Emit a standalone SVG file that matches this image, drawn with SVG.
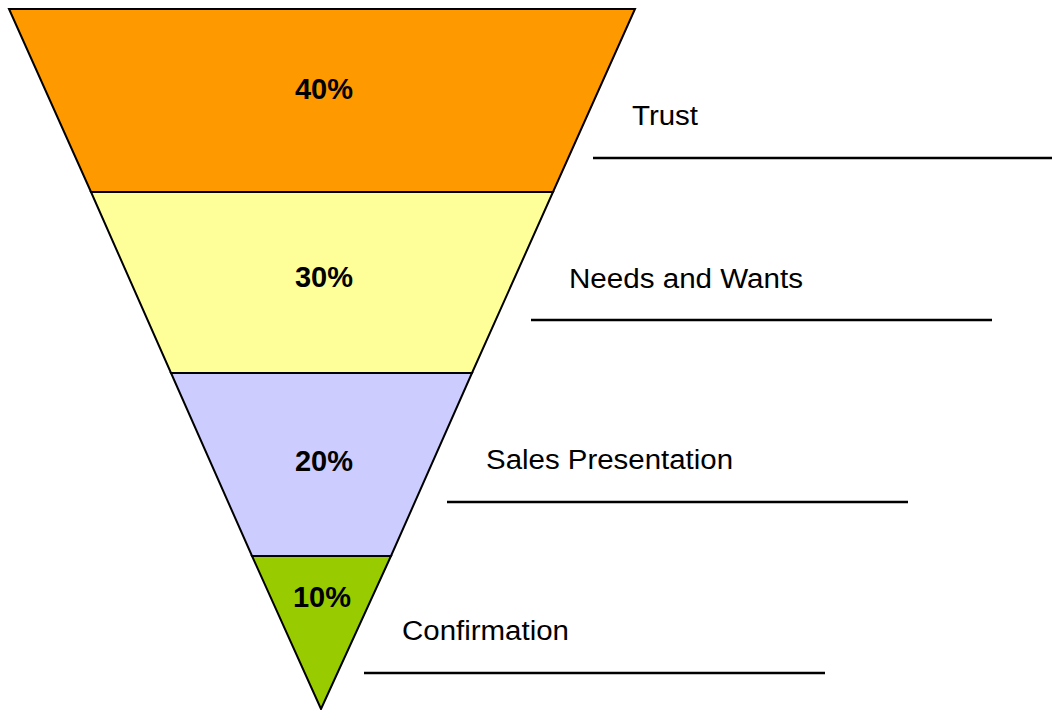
<svg xmlns="http://www.w3.org/2000/svg" width="1052" height="710" viewBox="0 0 1052 710">
  <style>
    .band { stroke: #000; stroke-width: 2; stroke-linejoin: miter; }
    .pct { font-family: "Liberation Sans", Arial, sans-serif; font-weight: bold; font-size: 29px; text-anchor: middle; fill: #000; }
    .label { font-family: "Liberation Sans", Arial, sans-serif; font-size: 27px; fill: #000; }
    .rule { stroke: #000; stroke-width: 2.5; }
  </style>
  <rect width="1052" height="710" fill="#fff"/>

  <!-- funnel bands, top to bottom -->
  <g id="band-trust">
    <polygon class="band" fill="#FF9900" points="9,9 635,9 553,192 91,192"/>
    <text class="pct" x="324" y="99">40%</text>
  </g>
  <g id="band-needs">
    <polygon class="band" fill="#FFFF99" points="91,192 553,192 472,373 171,373"/>
    <text class="pct" x="324" y="287">30%</text>
  </g>
  <g id="band-presentation">
    <polygon class="band" fill="#CCCCFF" points="171,373 472,373 391,556 252,556"/>
    <text class="pct" x="324" y="471">20%</text>
  </g>
  <g id="band-confirmation">
    <polygon class="band" fill="#99CC00" points="252,556 391,556 321,709"/>
    <text class="pct" x="322" y="607">10%</text>
  </g>

  <!-- stage labels with writing lines -->
  <g id="label-trust">
    <text class="label" x="632" y="125" textLength="66" lengthAdjust="spacingAndGlyphs">Trust</text>
    <line class="rule" x1="593" y1="158" x2="1052" y2="158"/>
  </g>
  <g id="label-needs">
    <text class="label" x="569" y="288" textLength="234" lengthAdjust="spacingAndGlyphs">Needs and Wants</text>
    <line class="rule" x1="531" y1="320" x2="992" y2="320"/>
  </g>
  <g id="label-presentation">
    <text class="label" x="486" y="469" textLength="247" lengthAdjust="spacingAndGlyphs">Sales Presentation</text>
    <line class="rule" x1="447" y1="502" x2="908" y2="502"/>
  </g>
  <g id="label-confirmation">
    <text class="label" x="402" y="640" textLength="167" lengthAdjust="spacingAndGlyphs">Confirmation</text>
    <line class="rule" x1="364" y1="673" x2="825" y2="673"/>
  </g>
</svg>
